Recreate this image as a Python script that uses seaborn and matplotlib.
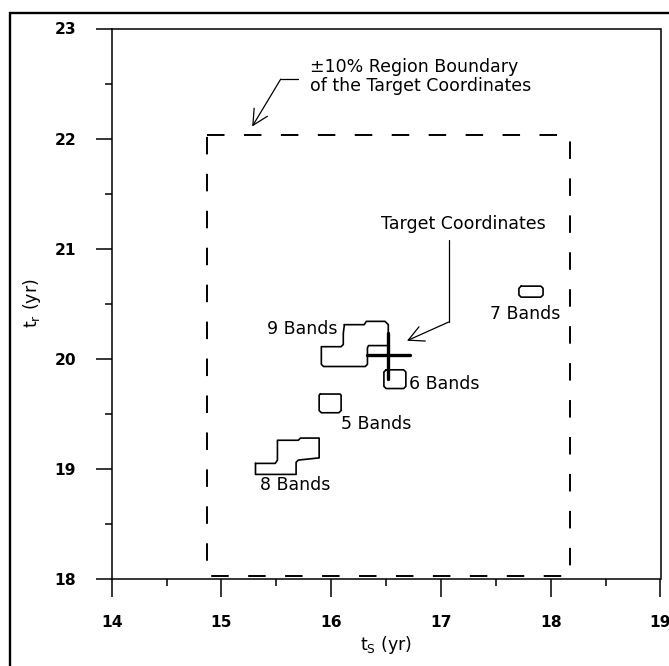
import matplotlib
matplotlib.use("Agg")
import matplotlib.pyplot as plt
import seaborn as sns
import pandas as pd
from matplotlib.patches import Rectangle
from matplotlib.ticker import MultipleLocator

# target coordinates and the +-10% region
target_ts = 16.52
target_tr = 20.03
region_frac = 0.10

# band contours (ts, tr)
bands9_ts = [16.12, 16.30, 16.32, 16.49, 16.52, 16.52, 16.34, 16.33, 16.33, 16.31, 15.93, 15.91, 15.91, 16.09, 16.11, 16.11, 16.12]
bands9_tr = [20.31, 20.31, 20.34, 20.34, 20.31, 20.12, 20.12, 20.10, 19.95, 19.93, 19.93, 19.95, 20.11, 20.11, 20.13, 20.23, 20.31]

bands6_ts = [16.50, 16.66, 16.68, 16.68, 16.66, 16.50, 16.48, 16.48, 16.50]
bands6_tr = [19.90, 19.90, 19.88, 19.75, 19.73, 19.73, 19.75, 19.88, 19.90]

bands5_ts = [15.90, 16.08, 16.09, 16.09, 16.07, 15.91, 15.89, 15.89, 15.90]
bands5_tr = [19.68, 19.68, 19.67, 19.53, 19.51, 19.51, 19.53, 19.67, 19.68]

bands8_ts = [15.31, 15.49, 15.51, 15.51, 15.70, 15.72, 15.89, 15.89, 15.70, 15.68, 15.68, 15.31, 15.31]
bands8_tr = [19.05, 19.05, 19.08, 19.26, 19.26, 19.28, 19.28, 19.10, 19.08, 19.06, 18.95, 18.95, 19.05]

bands7_ts = [17.73, 17.91, 17.93, 17.93, 17.91, 17.73, 17.71, 17.71, 17.73]
bands7_tr = [20.66, 20.66, 20.64, 20.58, 20.56, 20.56, 20.58, 20.64, 20.66]

sns.set_style("white")
plt.rcParams["font.family"] = ["DejaVu Sans"]
plt.rcParams["mathtext.default"] = "regular"
plt.rcParams["text.color"] = "black"
plt.rcParams["axes.labelcolor"] = "black"
plt.rcParams["xtick.color"] = "black"
plt.rcParams["ytick.color"] = "black"

fig = plt.figure(figsize=(6.69, 6.66), dpi=100)
ax = fig.add_axes([111.7 / 669, 1 - 579 / 666, (660.5 - 111.7) / 669, (579 - 28.5) / 666])

# contours
for xs, ys in [(bands9_ts, bands9_tr), (bands6_ts, bands6_tr), (bands5_ts, bands5_tr),
               (bands8_ts, bands8_tr), (bands7_ts, bands7_tr)]:
    d = pd.DataFrame({"ts": xs, "tr": ys})
    sns.lineplot(data=d, x="ts", y="tr", sort=False, estimator=None,
                 color="black", linewidth=1.2, ax=ax)

# dashed +-10% box
x0, x1 = target_ts * (1 - region_frac), target_ts * (1 + region_frac)
y0, y1 = target_tr * (1 - region_frac), target_tr * (1 + region_frac)
ax.plot([x0, x1, x1, x0, x0], [y1, y1, y0, y0, y1], color="black",
        linewidth=1.4, linestyle=(0, (9, 10)))

# target cross
ax.plot([target_ts - 0.195, target_ts + 0.195], [target_tr, target_tr], color="black", linewidth=2.4)
ax.plot([target_ts, target_ts], [target_tr - 0.21, target_tr + 0.20], color="black", linewidth=2.4)

# band labels
lbl = dict(fontsize=12.5, color="black", va="center")
ax.text(16.06, 20.27, "9 Bands", ha="right", **lbl)
ax.text(16.71, 19.77, "6 Bands", ha="left", **lbl)
ax.text(16.09, 19.41, "5 Bands", ha="left", **lbl)
ax.text(15.35, 18.855, "8 Bands", ha="left", **lbl)
ax.text(18.09, 20.41, "7 Bands", ha="right", **lbl)

# annotations with leaders
arrow = dict(arrowstyle="->,head_length=0.55,head_width=0.28", color="black",
             linewidth=0.9, mutation_scale=20, shrinkA=0, shrinkB=0)
ax.text(15.81, 22.565, "±10% Region Boundary\nof the Target Coordinates",
        ha="left", va="center", fontsize=12.5, linespacing=1.05)
ax.plot([15.70, 15.54], [22.54, 22.54], color="black", linewidth=0.9)
ax.annotate("", xy=(15.28, 22.11), xytext=(15.54, 22.54), arrowprops=arrow)

ax.text(17.2, 21.22, "Target Coordinates", ha="center", va="center", fontsize=12.5)
ax.plot([17.07, 17.07], [21.08, 20.334], color="black", linewidth=0.9)
ax.annotate("", xy=(16.69, 20.164), xytext=(17.07, 20.334), arrowprops=arrow)

# axes
ax.set_xlim(14, 19)
ax.set_ylim(18, 23)
ax.xaxis.set_major_locator(MultipleLocator(1))
ax.xaxis.set_minor_locator(MultipleLocator(0.5))
ax.yaxis.set_major_locator(MultipleLocator(1))
ax.yaxis.set_minor_locator(MultipleLocator(0.5))
ax.tick_params(axis="x", which="major", direction="out", length=12.7, width=1.1,
               pad=13, labelsize=11.2, bottom=True)
ax.tick_params(axis="y", which="major", direction="out", length=11.5, width=1.1,
               pad=14, labelsize=11.2, left=True)
ax.tick_params(which="minor", direction="out", length=5, width=1.1, bottom=True, left=True)
for lab in ax.get_xticklabels() + ax.get_yticklabels():
    lab.set_fontweight("bold")
for sp in ax.spines.values():
    sp.set_color("black")
    sp.set_linewidth(1.1)

ax.set_xlabel("t$_{S}$ (yr)", fontsize=12.5, labelpad=3)
ax.set_ylabel("t$_{r}$ (yr)", fontsize=12.5, labelpad=8)

# outer frame
fig.add_artist(Rectangle((10 / 669, -0.1), 1.2, 1 - 12.8 / 666 + 0.1,
                         transform=fig.transFigure, fill=False,
                         edgecolor="black", linewidth=1.7, clip_on=False))

fig.savefig("out.png", dpi=100)
